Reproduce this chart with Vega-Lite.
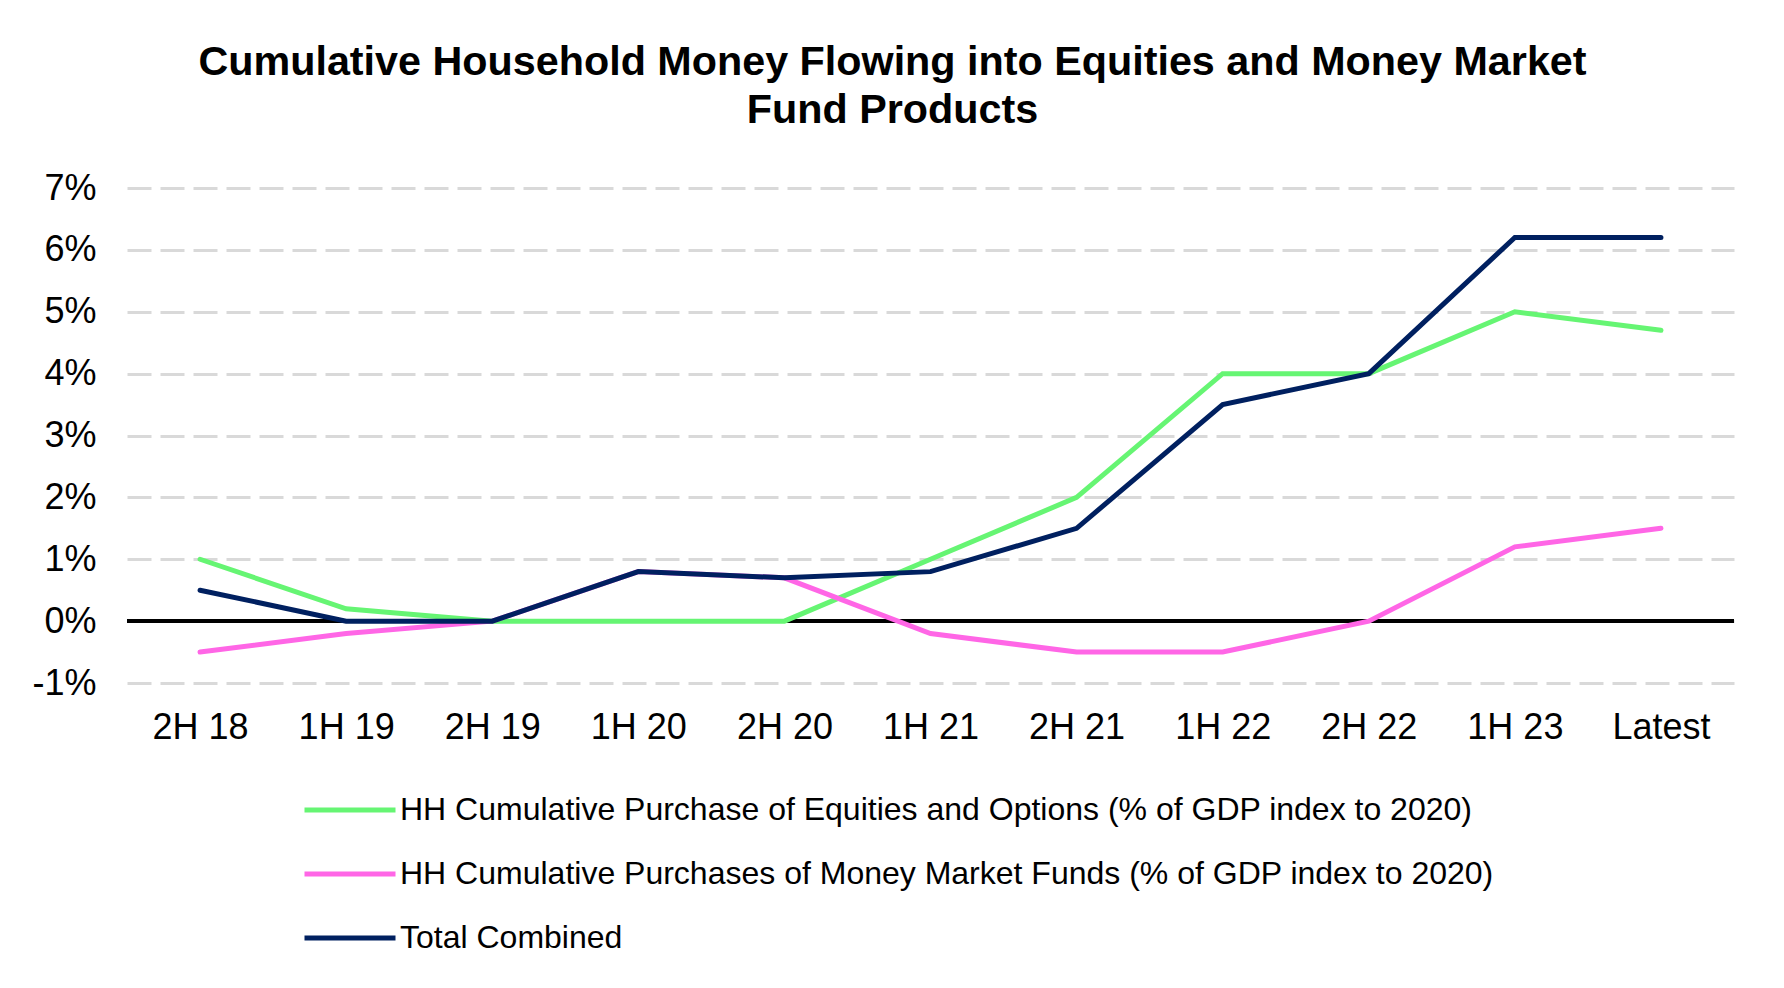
{
  "$schema": "https://vega.github.io/schema/vega-lite/v6.json",
  "width": 1607,
  "height": 495,
  "autosize": "none",
  "padding": {"left": 127, "top": 188, "right": 50, "bottom": 305},
  "background": "white",
  "title": {
    "text": ["Cumulative Household Money Flowing into Equities and Money Market", "Fund Products"],
    "font": "Liberation Sans",
    "fontSize": 41.3,
    "fontWeight": "bold",
    "color": "black",
    "anchor": "middle",
    "frame": "group",
    "dx": -38,
    "offset": 39,
    "lineHeight": 48
  },
  "data": {
    "values": [
      {"period": "2H 18", "series": "HH Cumulative Purchase of Equities and Options (% of GDP index to 2020)", "value": 1.0},
      {"period": "1H 19", "series": "HH Cumulative Purchase of Equities and Options (% of GDP index to 2020)", "value": 0.2},
      {"period": "2H 19", "series": "HH Cumulative Purchase of Equities and Options (% of GDP index to 2020)", "value": 0.0},
      {"period": "1H 20", "series": "HH Cumulative Purchase of Equities and Options (% of GDP index to 2020)", "value": 0.0},
      {"period": "2H 20", "series": "HH Cumulative Purchase of Equities and Options (% of GDP index to 2020)", "value": 0.0},
      {"period": "1H 21", "series": "HH Cumulative Purchase of Equities and Options (% of GDP index to 2020)", "value": 1.0},
      {"period": "2H 21", "series": "HH Cumulative Purchase of Equities and Options (% of GDP index to 2020)", "value": 2.0},
      {"period": "1H 22", "series": "HH Cumulative Purchase of Equities and Options (% of GDP index to 2020)", "value": 4.0},
      {"period": "2H 22", "series": "HH Cumulative Purchase of Equities and Options (% of GDP index to 2020)", "value": 4.0},
      {"period": "1H 23", "series": "HH Cumulative Purchase of Equities and Options (% of GDP index to 2020)", "value": 5.0},
      {"period": "Latest", "series": "HH Cumulative Purchase of Equities and Options (% of GDP index to 2020)", "value": 4.7},
      {"period": "2H 18", "series": "HH Cumulative Purchases of Money Market Funds (% of GDP index to 2020)", "value": -0.5},
      {"period": "1H 19", "series": "HH Cumulative Purchases of Money Market Funds (% of GDP index to 2020)", "value": -0.2},
      {"period": "2H 19", "series": "HH Cumulative Purchases of Money Market Funds (% of GDP index to 2020)", "value": 0.0},
      {"period": "1H 20", "series": "HH Cumulative Purchases of Money Market Funds (% of GDP index to 2020)", "value": 0.8},
      {"period": "2H 20", "series": "HH Cumulative Purchases of Money Market Funds (% of GDP index to 2020)", "value": 0.7},
      {"period": "1H 21", "series": "HH Cumulative Purchases of Money Market Funds (% of GDP index to 2020)", "value": -0.2},
      {"period": "2H 21", "series": "HH Cumulative Purchases of Money Market Funds (% of GDP index to 2020)", "value": -0.5},
      {"period": "1H 22", "series": "HH Cumulative Purchases of Money Market Funds (% of GDP index to 2020)", "value": -0.5},
      {"period": "2H 22", "series": "HH Cumulative Purchases of Money Market Funds (% of GDP index to 2020)", "value": 0.0},
      {"period": "1H 23", "series": "HH Cumulative Purchases of Money Market Funds (% of GDP index to 2020)", "value": 1.2},
      {"period": "Latest", "series": "HH Cumulative Purchases of Money Market Funds (% of GDP index to 2020)", "value": 1.5},
      {"period": "2H 18", "series": "Total Combined", "value": 0.5},
      {"period": "1H 19", "series": "Total Combined", "value": 0.0},
      {"period": "2H 19", "series": "Total Combined", "value": 0.0},
      {"period": "1H 20", "series": "Total Combined", "value": 0.8},
      {"period": "2H 20", "series": "Total Combined", "value": 0.7},
      {"period": "1H 21", "series": "Total Combined", "value": 0.8},
      {"period": "2H 21", "series": "Total Combined", "value": 1.5},
      {"period": "1H 22", "series": "Total Combined", "value": 3.5},
      {"period": "2H 22", "series": "Total Combined", "value": 4.0},
      {"period": "1H 23", "series": "Total Combined", "value": 6.2},
      {"period": "Latest", "series": "Total Combined", "value": 6.2}
    ]
  },
  "encoding": {
    "x": {
      "field": "period",
      "type": "ordinal",
      "sort": null,
      "scale": {"type": "point", "padding": 0.5},
      "axis": {
        "title": null,
        "labelAngle": 0,
        "labelFont": "Liberation Sans",
        "labelFontSize": 36,
        "labelColor": "black",
        "labelPadding": 27,
        "domain": false,
        "ticks": false,
        "grid": false
      }
    },
    "y": {
      "field": "value",
      "type": "quantitative",
      "scale": {"domain": [-1, 7], "nice": false},
      "axis": {
        "title": null,
        "values": [-1, 0, 1, 2, 3, 4, 5, 6, 7],
        "labelExpr": "datum.value + '%'",
        "labelFont": "Liberation Sans",
        "labelFontSize": 36,
        "labelColor": "black",
        "labelPadding": 31,
        "domain": false,
        "ticks": false,
        "gridColor": "#D9D9D9",
        "gridDash": [24, 9],
        "gridWidth": 3
      }
    }
  },
  "layer": [
    {
      "mark": {"type": "rule", "color": "black", "strokeWidth": 3},
      "encoding": {"y": {"datum": 0}, "x": null}
    },
    {
      "mark": {"type": "line", "strokeWidth": 5, "strokeCap": "round"},
      "encoding": {
        "color": {
          "field": "series",
          "type": "nominal",
          "sort": null,
          "scale": {
            "domain": [
              "HH Cumulative Purchase of Equities and Options (% of GDP index to 2020)",
              "HH Cumulative Purchases of Money Market Funds (% of GDP index to 2020)",
              "Total Combined"
            ],
            "range": ["#66F573", "#FF66E6", "#002060"]
          },
          "legend": {
            "title": null,
            "orient": "none",
            "legendX": 175,
            "legendY": 574,
            "direction": "vertical",
            "symbolType": "stroke",
            "symbolSize": 8281,
            "symbolStrokeWidth": 5,
            "labelFont": "Liberation Sans",
            "labelFontSize": 32,
            "labelColor": "black",
            "labelLimit": 1500,
            "labelOffset": 2,
            "rowPadding": -3
          }
        }
      }
    }
  ],
  "config": {"view": {"stroke": null}}
}
